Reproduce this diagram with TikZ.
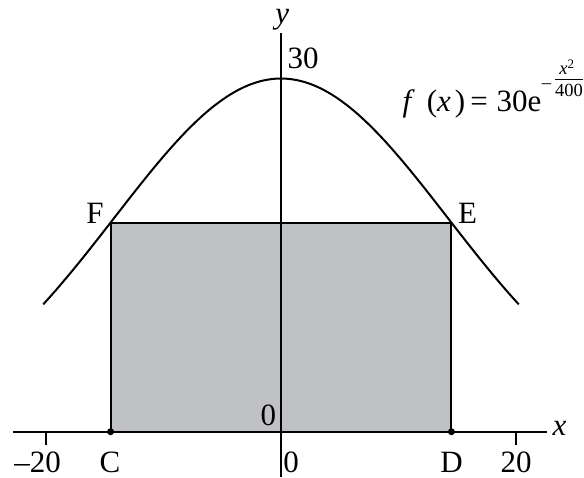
\documentclass[tikz,border=0pt]{standalone}
\usepackage{fontspec}
\setmainfont{Liberation Serif}
\definecolor{rectgray}{RGB}{192,193,197}
\tikzset{
  lbl/.style={inner sep=0pt, font=\fontsize{31}{36}\selectfont},
  explbl/.style={inner sep=0pt, font=\fontsize{18.5}{20}\selectfont},
  axisline/.style={line width=2.1pt, black},
  curveline/.style={line width=2pt, black},
  rectline/.style={line width=2pt, black},
  barline/.style={line width=0.8pt, black},
  dotmark/.style={circle, fill=black, inner sep=0pt, minimum size=7pt}
}
\begin{document}
\begin{tikzpicture}[x=11.77pt, y=11.77pt]
\useasboundingbox (-23.874,-3.849) rectangle (25.743,36.678);
% key points
\coordinate (O) at (0,0);
\coordinate (C) at (-14.48,0);
\coordinate (D) at (14.48,0);
\coordinate (E) at (14.48,17.761);
\coordinate (F) at (-14.48,17.761);
\coordinate (xl) at (-22.77,0);
\coordinate (xr) at (22.57,0);
\coordinate (yt) at (0,33.85);
\coordinate (yb) at (0,-3.85);
\coordinate (tl) at (-20,0);
\coordinate (tlb) at (-20,-1.13);
\coordinate (tr) at (20,0);
\coordinate (trb) at (20,-1.13);
\coordinate (barl) at (23.28,29.96);
\coordinate (barr) at (25.66,29.96);
% shaded rectangle
\fill[rectgray] (C) rectangle (E);
\draw[rectline] (C) -- (F) -- (E) -- (D);
% curve
\draw[curveline] plot[domain=-20.2:20.2, samples=161, smooth] (\x,{30*exp(-\x*\x/400)});
% axes
\draw[axisline] (xl) -- (xr);
\draw[axisline] (yb) -- (yt);
\draw[axisline] (tl) -- (tlb);
\draw[axisline] (tr) -- (trb);
% dots
\node[dotmark] (Cdot) at (C) {};
\node[dotmark] (Ddot) at (D) {};
% labels
\node[lbl, anchor=base] (ylab) at (0.1,34.72) {\itshape y};
\node[lbl, anchor=base] (xlab) at (23.67,-0.28) {\itshape x};
\node[lbl, anchor=base west] (l30) at (0.55,30.87) {30};
\node[lbl, anchor=south east] (l0a) at (-0.4,0.45) {0};
\node[lbl, anchor=base east] (lm20) at (-18.68,-3.5) {–20};
\node[lbl, anchor=base] (lC) at (-14.53,-3.5) {C};
\node[lbl, anchor=base west] (l0b) at (0.18,-3.5) {0};
\node[lbl, anchor=base] (lD) at (14.5,-3.5) {D};
\node[lbl, anchor=base] (l20) at (19.98,-3.5) {20};
\node[lbl, anchor=base] (lF) at (-15.8,17.7) {F};
\node[lbl, anchor=base] (lE) at (15.85,17.7) {E};
% formula
\node[lbl, anchor=base east] (fx) at (22.15,27.19) {\textit{f}\kern12pt(\textit{x}\kern4pt)\kern5pt=\kern9pt30e};
\node[explbl, anchor=base] (fminus) at (22.56,29.13) {–};
\node[explbl, anchor=base] (fnum) at (24.3,30.31) {\textit{x}\textsuperscript{2}};
\node[explbl, anchor=base] (fden) at (24.47,28.5) {400};
\draw[barline] (barl) -- (barr);
\end{tikzpicture}
\end{document}
